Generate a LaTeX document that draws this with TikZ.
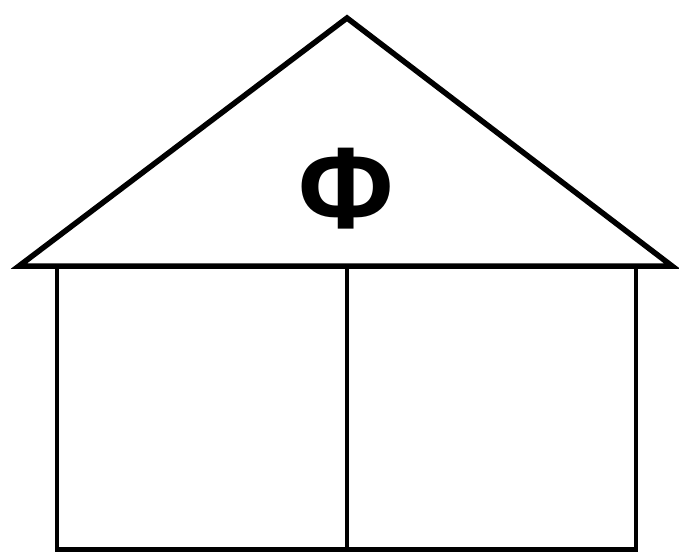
\documentclass[tikz,border=0pt]{standalone}
\usepackage{fontspec}
\setmainfont{Liberation Sans}
\begin{document}
\begin{tikzpicture}[x=1pt,y=-1pt,
  roof/.style={line width=5.5pt,line join=miter},
  wall/.style={line width=4.5pt}]
\useasboundingbox (0,0) rectangle (679,552);
\coordinate (L) at (19,266);
\coordinate (A) at (347,18);
\coordinate (R) at (672,266);
\draw[roof] (L) -- (A) -- (R) -- cycle;
\coordinate (wl) at (57,266);
\coordinate (wr) at (636,549.5);
\draw[wall] (wl) rectangle (wr);
\coordinate (mt) at (347,266);
\coordinate (mb) at (347,549.5);
\draw[wall] (mt) -- (mb);
\node[inner sep=0pt,font=\fontsize{116}{116}\selectfont\bfseries] (phi) at (346,189) {Φ};
\end{tikzpicture}
\end{document}
